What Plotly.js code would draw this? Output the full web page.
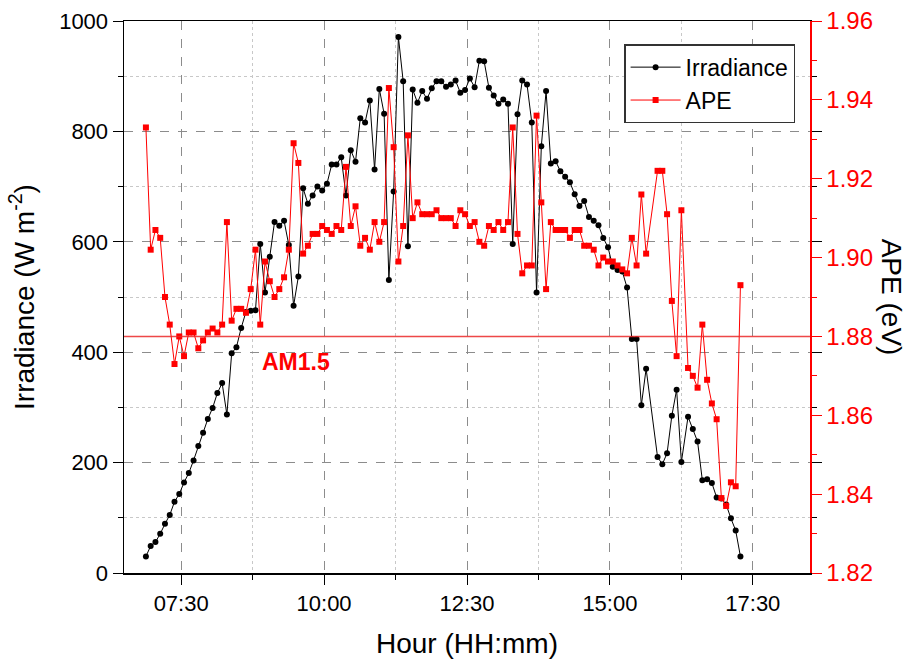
<!DOCTYPE html>
<html>
<head>
<meta charset="utf-8">
<script src="https://cdn.plot.ly/plotly-3.0.1.min.js"></script>
<style>html,body{margin:0;padding:0;background:#fff;}#chart{width:909px;height:664px;}</style>
</head>
<body>
<div id="chart"></div>
<script>
// Time of each sample (HH:MM)
const times = [
"06:53","06:58","07:03","07:08","07:13","07:18","07:23","07:28","07:33","07:38",
"07:43","07:48","07:53","07:58","08:03","08:08","08:13","08:18","08:23","08:28",
"08:33","08:38","08:43","08:48","08:53","08:58","09:03","09:08","09:13","09:18",
"09:23","09:28","09:33","09:38","09:43","09:48","09:53","09:58","10:03","10:08",
"10:13","10:18","10:23","10:28","10:33","10:38","10:43","10:48","10:53","10:58",
"11:03","11:08","11:13","11:18","11:23","11:28","11:33","11:38","11:43","11:48",
"11:53","11:58","12:03","12:08","12:13","12:18","12:23","12:28","12:33","12:38",
"12:43","12:48","12:53","12:58","13:03","13:08","13:13","13:18","13:23","13:28",
"13:33","13:38","13:43","13:48","13:53","13:58","14:03","14:08","14:13","14:18",
"14:23","14:28","14:33","14:38","14:43","14:48","14:53","14:58","15:03","15:08",
"15:13","15:18","15:23","15:28","15:33","15:38","15:50","15:55","16:00","16:05",
"16:10","16:15","16:22","16:27","16:32","16:37","16:42","16:47","16:52","16:57",
"17:02","17:07","17:12","17:17"];

// Irradiance (W m-2)
const irradiance = [
30,49,56,71,89,105,129,143,164,181,
204,230,254,279,299,326,344,287,398,409,
444,473,475,476,596,508,573,636,629,638,
594,484,537,697,669,684,700,693,705,740,
740,753,684,766,745,824,816,856,731,877,
832,531,691,971,891,592,876,852,873,859,
878,891,891,881,885,892,870,875,896,880,
928,927,879,865,850,858,850,596,831,892,
885,816,508,773,873,742,746,728,718,708,
686,665,674,645,638,630,607,590,555,549,
546,517,424,424,304,370,210,197,217,285,
332,201,283,261,238,168,170,163,137,135,
124,99,77,30];

// Average photon energy (eV)
const ape = [
1.933,1.902,1.907,1.905,1.890,1.883,1.873,1.880,1.875,1.881,
1.881,1.877,1.879,1.881,1.882,1.881,1.883,1.909,1.884,1.887,
1.887,1.886,1.892,1.902,1.883,1.899,1.894,1.890,1.892,1.895,
1.902,1.929,1.924,1.901,1.903,1.906,1.906,1.908,1.907,1.906,
1.908,1.907,1.923,1.908,1.913,1.903,1.905,1.902,1.909,1.904,
1.909,1.943,1.928,1.899,1.908,1.931,1.910,1.914,1.911,1.911,
1.911,1.912,1.910,1.910,1.910,1.908,1.912,1.911,1.908,1.909,
1.904,1.903,1.908,1.907,1.909,1.907,1.909,1.933,1.906,1.896,
1.898,1.898,1.936,1.914,1.892,1.909,1.907,1.907,1.907,1.905,
1.907,1.907,1.903,1.903,1.902,1.898,1.900,1.899,1.899,1.898,
1.897,1.896,1.905,1.898,1.916,1.901,1.922,1.922,1.911,1.889,
1.875,1.912,1.872,1.870,1.867,1.883,1.869,1.863,1.859,1.839,
1.837,1.843,1.842,1.893];

// Axis ticks
const xTickTimes = ["07:30","10:00","12:30","15:00","17:30"];
const xMinorTimes = ["06:15","08:45","11:15","13:45","16:15","18:45"];
const xRange = ["06:30","18:30"];
const am15Value = 1.88;
const am15Label = "AM1.5";
const am15Pos = {time: "09:31", irr: 383};

const DAY = "2000-01-01 ";
const toDate = t => DAY + t;
const FONT = "Liberation Sans, Arial, sans-serif";

const tickVals = xTickTimes.map(toDate);

const traces = [
  {
    x: times.map(toDate), y: irradiance, name: "Irradiance",
    type: "scatter", mode: "lines+markers",
    line: {color: "#000000", width: 1},
    marker: {color: "#000000", size: 6, symbol: "circle"},
    xaxis: "x", yaxis: "y"
  },
  {
    x: times.map(toDate), y: ape, name: "APE",
    type: "scatter", mode: "lines+markers",
    line: {color: "#ff0000", width: 1},
    marker: {color: "#ff0000", size: 6, symbol: "square"},
    xaxis: "x", yaxis: "y2"
  }
];

const layout = {
  width: 909, height: 664,
  margin: {l: 124, r: 99, t: 21, b: 91},
  paper_bgcolor: "#ffffff", plot_bgcolor: "#ffffff",
  font: {family: FONT, size: 22, color: "#000"},
  showlegend: true,
  legend: {
    x: 0.729, y: 0.958, xanchor: "left", yanchor: "top",
    bgcolor: "#ffffff", bordercolor: "#333333", borderwidth: 1.5,
    font: {family: FONT, size: 23, color: "#000"},
    itemwidth: 50, tracegroupgap: 0
  },
  xaxis: {
    type: "date",
    range: xRange.map(toDate),
    tickmode: "array", tickvals: tickVals, ticktext: xTickTimes,
    ticks: "outside", ticklen: 10, tickwidth: 1, tickcolor: "#000",
    tickfont: {family: FONT, size: 22, color: "#000"},
    showgrid: true, gridcolor: "#8c8c8c", gridwidth: 1, griddash: "dash",
    showline: true, linecolor: "#000", linewidth: 1.5, mirror: true,
    zeroline: false,
    minor: {
      tickmode: "array", tickvals: xMinorTimes.map(toDate),
      ticks: "outside", ticklen: 5, tickcolor: "#000", tickwidth: 1,
      showgrid: true, gridcolor: "#c8c8c8", gridwidth: 1, griddash: "dot"
    },
    title: {text: "Hour (HH:mm)", font: {family: FONT, size: 28, color: "#000"}, standoff: 18}
  },
  xaxis2: {
    type: "date", overlaying: "x", side: "top", anchor: "y",
    range: xRange.map(toDate),
    tickmode: "array", tickvals: tickVals,
    ticks: "inside", ticklen: 6, tickcolor: "#000", showticklabels: false,
    showgrid: false, zeroline: false, showline: false,
    minor: {tickmode: "array", tickvals: xMinorTimes.map(toDate), ticks: "inside", ticklen: 4, tickcolor: "#000", showgrid: false}
  },
  yaxis: {
    range: [0, 1000], dtick: 200, tick0: 0,
    ticks: "outside", ticklen: 10, tickwidth: 1, tickcolor: "#000",
    tickfont: {family: FONT, size: 22, color: "#000"},
    showgrid: true, gridcolor: "#8c8c8c", gridwidth: 1, griddash: "dash",
    showline: true, linecolor: "#000", linewidth: 1.5, mirror: "ticks",
    zeroline: false,
    minor: {dtick: 100, ticks: "outside", ticklen: 5, tickcolor: "#000",
            showgrid: true, gridcolor: "#c8c8c8", gridwidth: 1, griddash: "dot"},
    title: {text: "Irradiance (W m<sup>-2</sup>)", font: {family: FONT, size: 28, color: "#000"}, standoff: 16}
  },
  yaxis2: {
    overlaying: "y", side: "right", anchor: "x",
    range: [1.82, 1.96], dtick: 0.02, tick0: 1.82, tickformat: ".2f",
    ticks: "outside", ticklen: 10, tickwidth: 1, tickcolor: "#ff0000",
    tickfont: {family: FONT, size: 24, color: "#ff0000"},
    showgrid: false, zeroline: false,
    showline: true, linecolor: "#ff0000", linewidth: 1.5,
    minor: {dtick: 0.01, ticks: "outside", ticklen: 5, tickcolor: "#ff0000", showgrid: false}
  },
  shapes: [
    {type: "line", xref: "paper", x0: 0, x1: 1, yref: "y2", y0: am15Value, y1: am15Value,
     line: {color: "rgba(235,40,40,0.85)", width: 1.5}, layer: "above"}
  ],
  annotations: [
    {text: "<b>" + am15Label + "</b>", x: toDate(am15Pos.time), y: am15Pos.irr, xref: "x", yref: "y",
     showarrow: false, font: {family: FONT, size: 23, color: "#ff0000"}},
    {text: "APE (eV)", xref: "paper", yref: "paper", x: 1.12, y: 0.5, xanchor: "center", yanchor: "middle",
     textangle: 90, showarrow: false, font: {family: FONT, size: 28, color: "#000"}}
  ]
};

Plotly.newPlot("chart", traces, layout, {displayModeBar: false, staticPlot: true});
</script>
</body>
</html>
